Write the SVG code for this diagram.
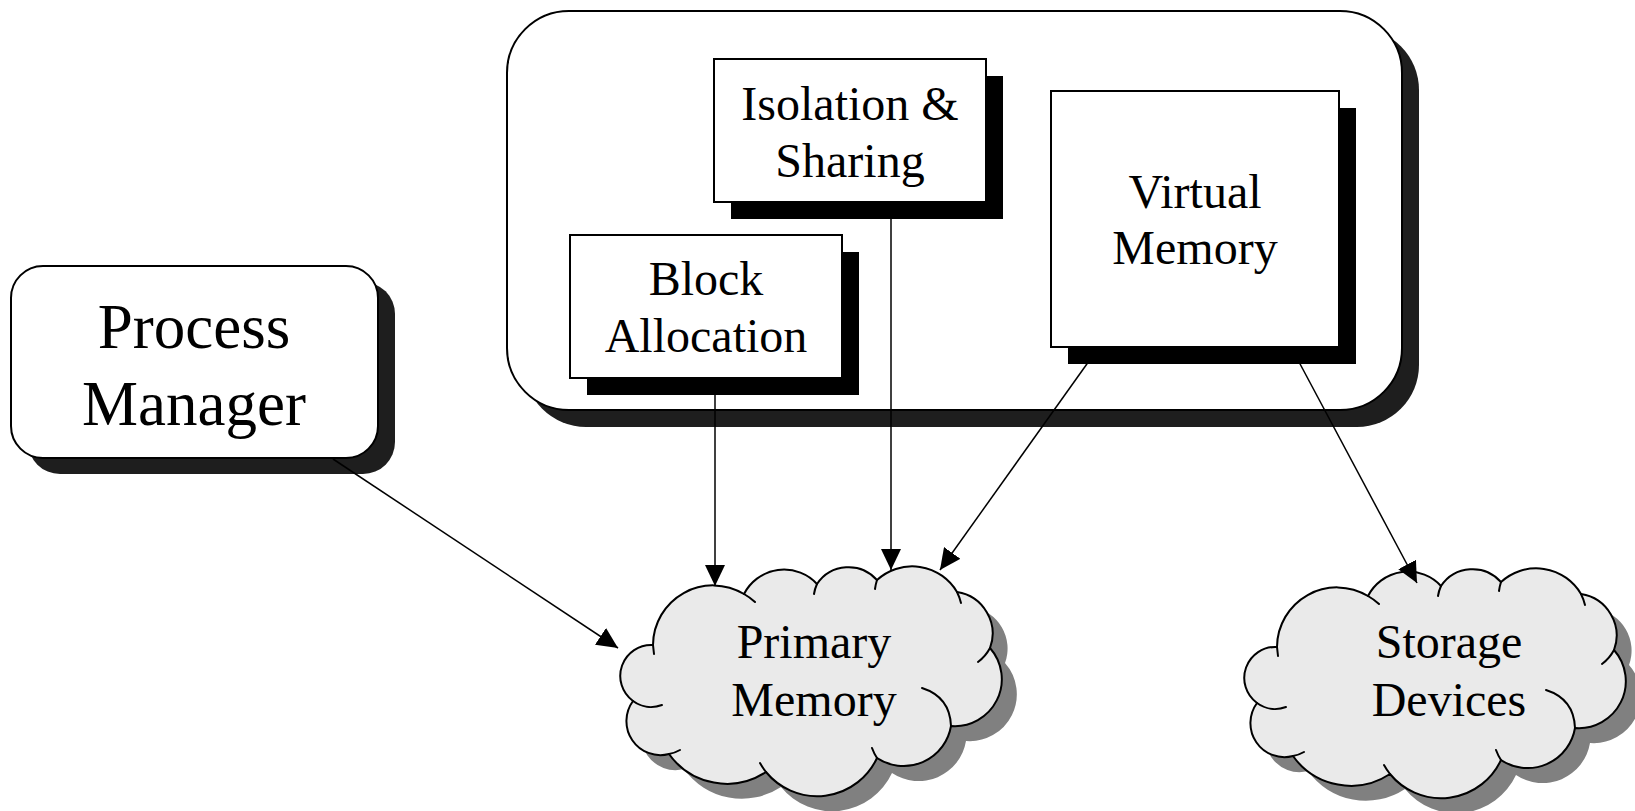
<svg xmlns="http://www.w3.org/2000/svg" xmlns:xlink="http://www.w3.org/1999/xlink" width="1635" height="811" viewBox="0 0 1635 811">
<defs>
<style>
.lbl{font-family:"Liberation Serif","Times New Roman",serif;font-size:48px;fill:#000;text-anchor:middle}
.big{font-size:63px}
.box{fill:#fff;stroke:#000;stroke-width:2}
.bshadow{fill:#000}
.rshadow{fill:#1e1e1e}
.cfill{fill:#eaeaea;stroke:#000;stroke-width:2;stroke-linejoin:round}
.cshadow{fill:#808080}
.tail{fill:none;stroke:#000;stroke-width:2;stroke-linecap:round}
.conn{fill:none;stroke:#000;stroke-width:1.5}
</style>
<marker id="arrow" markerWidth="21" markerHeight="20" refX="21" refY="10" orient="auto" markerUnits="userSpaceOnUse">
<path d="M0,0 L21,10 L0,20 z" fill="#000"/>
</marker>
<path id="cloudOutline" d="M653,645 A60,60 0 0 1 744,594 A45,45 0 0 1 817,584 A38,38 0 0 1 877,580 A52,52 0 0 1 957,592 A42,42 0 0 1 990,648 A47,47 0 0 1 951,726 A48,48 0 0 1 877,758 A66,66 0 0 1 766,772 A71,71 0 0 1 669,754 A34,34 0 0 1 633,701 A31,31 0 0 1 653,645 Z"/>
<g id="cloud">
<use xlink:href="#cloudOutline" href="#cloudOutline" class="cshadow" transform="translate(15,15)"/>
<use xlink:href="#cloudOutline" href="#cloudOutline" class="cfill"/>
<path class="tail" d="M653,645 L654,654 M744,594 A60,60 0 0 1 755,602 M817,584 A38,38 0 0 0 814,594 M877,580 A52,52 0 0 0 875,589 M957,592 A52,52 0 0 1 961,603 M990,648 A42,42 0 0 1 978,662 M951,726 Q950,697 922,688 M877,758 A48,48 0 0 1 872,748 M766,772 A66,66 0 0 1 760,763 M669,754 A34,34 0 0 0 680,750 M633,701 A31,31 0 0 0 662,705"/>
</g>
</defs>

<g id="memory-manager">
<rect class="rshadow" x="524" y="28" width="895" height="399" rx="62"/>
<rect class="box" x="507" y="11" width="895" height="399" rx="62"/>
</g>

<g id="process-manager">
<rect class="rshadow" x="28" y="282" width="367" height="192" rx="32"/>
<rect class="box" x="11" y="266" width="367" height="192" rx="32"/>
<text class="lbl big" x="194" y="348">Process</text>
<text class="lbl big" x="194" y="425">Manager</text>
</g>

<g id="isolation-sharing">
<rect class="bshadow" x="731" y="76" width="272" height="143"/>
<rect class="box" x="714" y="59" width="272" height="143"/>
<text class="lbl" x="850" y="120">Isolation &amp;</text>
<text class="lbl" x="850" y="177">Sharing</text>
</g>

<g id="block-allocation">
<rect class="bshadow" x="587" y="252" width="272" height="143"/>
<rect class="box" x="570" y="235" width="272" height="143"/>
<text class="lbl" x="706" y="295">Block</text>
<text class="lbl" x="706" y="352">Allocation</text>
</g>

<g id="virtual-memory">
<rect class="bshadow" x="1068" y="108" width="288" height="256"/>
<rect class="box" x="1051" y="91" width="288" height="256"/>
<text class="lbl" x="1195" y="208">Virtual</text>
<text class="lbl" x="1195" y="264">Memory</text>
</g>

<g id="primary-memory">
<use xlink:href="#cloud" href="#cloud"/>
<text class="lbl" x="814" y="658">Primary</text>
<text class="lbl" x="814" y="716">Memory</text>
</g>

<g id="storage-devices">
<use xlink:href="#cloud" href="#cloud" transform="translate(624,2)"/>
<text class="lbl" x="1449" y="658">Storage</text>
<text class="lbl" x="1449" y="716">Devices</text>
</g>

<g id="connectors">
<line class="conn" x1="333" y1="459" x2="618" y2="648" marker-end="url(#arrow)"/>
<line class="conn" x1="715" y1="378" x2="715" y2="586" marker-end="url(#arrow)"/>
<line class="conn" x1="891" y1="202" x2="891" y2="570" marker-end="url(#arrow)"/>
<line class="conn" x1="1099" y1="347" x2="940" y2="570" marker-end="url(#arrow)"/>
<line class="conn" x1="1291" y1="347" x2="1417" y2="583" marker-end="url(#arrow)"/>
</g>
</svg>
